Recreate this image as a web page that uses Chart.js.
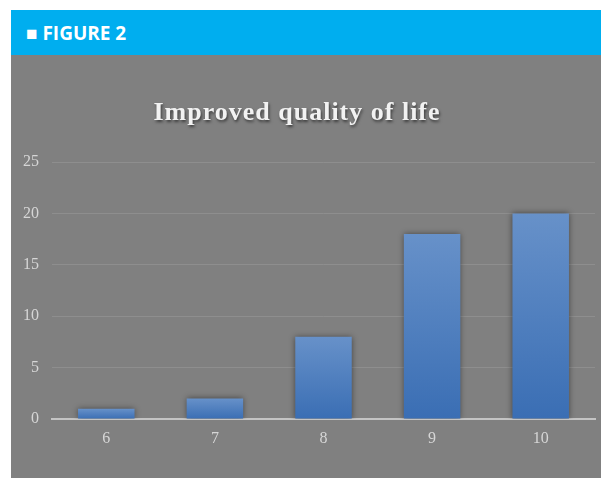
<!DOCTYPE html>
<html>
<head>
<meta charset="utf-8">
<title>Figure 2</title>
<script src="https://cdn.jsdelivr.net/npm/chart.js@4.4.1/dist/chart.umd.min.js"></script>
<style>
  body { margin: 0; background: #fff; width: 601px; height: 478px; overflow: hidden; position: relative; }
  #header {
    position: absolute; left: 11px; top: 10px; width: 590px; height: 45px;
    background: #00aeef; color: #fff;
    font: bold 19px "Open Sans", sans-serif; line-height: 46px;
  }
  #header span { margin-left: 15px; }
  #panel { position: absolute; left: 11px; top: 55px; width: 590px; height: 423px; background: #808080; }
</style>
</head>
<body>
<div id="header"><span>■ FIGURE 2</span></div>
<div id="panel"><canvas id="myChart" width="590" height="423"></canvas></div>
<script>
const chartTitle = 'Improved quality of life';
const scores = ['6', '7', '8', '9', '10'];
const counts = [1, 2, 8, 18, 20];
const yTicks = [0, 5, 10, 15, 20, 25];

// per-bar vertical gradient, lighter at the top
function barFill(context) {
  const chart = context.chart;
  if (!chart.chartArea || context.raw === undefined) return '#4f81c4';
  const y = chart.scales.y;
  const top = y.getPixelForValue(context.raw);
  const base = y.getPixelForValue(0);
  const g = chart.ctx.createLinearGradient(0, top, 0, base);
  g.addColorStop(0, '#6791c9');
  g.addColorStop(1, '#3a6eb4');
  return g;
}

// title with a soft drop shadow, plus shadows under the bars
const decorations = {
  id: 'decorations',
  beforeDatasetsDraw(chart) {
    const ctx = chart.ctx;
    ctx.save();
    ctx.shadowColor = 'rgba(0,0,0,0.45)';
    ctx.shadowBlur = 6;
    ctx.shadowOffsetX = 0;
    ctx.shadowOffsetY = 0;
  },
  afterDatasetsDraw(chart) {
    chart.ctx.restore();
  },
  afterDraw(chart) {
    const ctx = chart.ctx;
    ctx.save();
    ctx.font = 'bold 26px "Liberation Serif", serif';
    ctx.letterSpacing = '1px';
    ctx.textAlign = 'center';
    ctx.textBaseline = 'alphabetic';
    ctx.shadowColor = 'rgba(0,0,0,0.55)';
    ctx.shadowBlur = 3;
    ctx.shadowOffsetX = 1;
    ctx.shadowOffsetY = 2;
    ctx.fillStyle = '#f2f2f2';
    ctx.fillText(chartTitle, 286, 65);
    ctx.restore();
  }
};

const ctx = document.getElementById('myChart').getContext('2d');
const chart = new Chart(ctx, {
  type: 'bar',
  data: {
    labels: scores,
    datasets: [{
      data: counts,
      backgroundColor: barFill,
      borderWidth: 0,
      barPercentage: 0.52,
      categoryPercentage: 1
    }]
  },
  options: {
    responsive: false,
    animation: false,
    layout: { padding: { top: 107, right: 6, left: 0, bottom: 0 } },
    plugins: {
      legend: { display: false },
      tooltip: { enabled: false }
    },
    scales: {
      x: {
        grid: { display: false },
        border: { color: '#c4c4c4', width: 2 },
        ticks: { color: '#d6d6d6', padding: 2, font: { family: '"Liberation Serif", serif', size: 16 } },
        afterFit(scale) { scale.height = 59; }
      },
      y: {
        min: 0,
        max: 25,
        afterBuildTicks(scale) { scale.ticks = yTicks.map(v => ({ value: v })); },
        grid: {
          drawTicks: false,
          color: c => c.tick && c.tick.value === 0 ? 'rgba(0,0,0,0)' : '#8e8e8e',
          lineWidth: 1
        },
        border: { display: false },
        ticks: { color: '#d6d6d6', padding: 13, font: { family: '"Liberation Serif", serif', size: 16 } },
        afterFit(scale) { scale.width = 41; }
      }
    }
  },
  plugins: [decorations]
});
</script>
</body>
</html>
